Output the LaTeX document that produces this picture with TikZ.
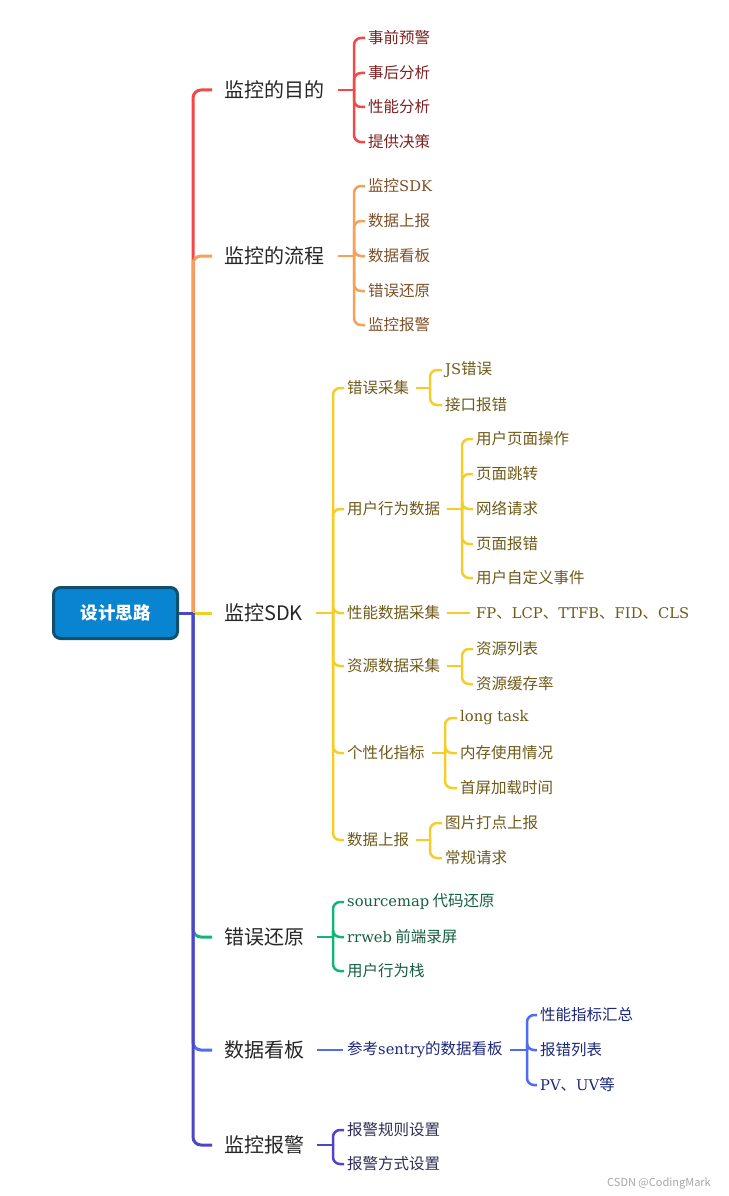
\documentclass[tikz,border=0pt]{standalone}
\usepackage{fontspec}
\setmainfont{Noto Sans CJK SC}
\newfontfamily\latin[Scale=0.95]{DejaVu Serif}
\usetikzlibrary{positioning, calc}
\definecolor{rootblue}{RGB}{8,132,208}
\definecolor{rootedge}{RGB}{14,80,110}
\definecolor{redline}{RGB}{244,72,72}
\definecolor{orangeline}{RGB}{246,160,88}
\definecolor{yellowline}{RGB}{244,206,40}
\definecolor{greenline}{RGB}{18,180,120}
\definecolor{blueline}{RGB}{78,108,244}
\definecolor{purpleline}{RGB}{78,70,200}
\definecolor{redtext}{RGB}{125,32,32}
\definecolor{orangetext}{RGB}{125,80,40}
\definecolor{yellowtext}{RGB}{110,90,25}
\definecolor{greentext}{RGB}{20,95,65}
\definecolor{bluetext}{RGB}{30,40,120}
\definecolor{purpletext}{RGB}{45,45,85}

\begin{document}
\begin{tikzpicture}[x=1pt, y=-1pt,
    mainlabel/.style={anchor=west, inner sep=0pt, text=black!85, font=\fontsize{20}{24}\selectfont},
    leaf/.style={anchor=west, inner sep=0pt, font=\fontsize{15.5}{18}\selectfont},
    trunk/.style={line width=3pt, rounded corners=8pt},
    twig/.style={line width=2.5pt, rounded corners=7pt}]
    \useasboundingbox (0,0) rectangle (728,1196);

    % Root
    \node[draw=rootedge, fill=rootblue, line width=3pt, rounded corners=7pt, minimum width=124pt, minimum height=51pt,
        text=white, font=\fontsize{17.5}{20}\selectfont\bfseries] (root) at (115.5,613) {设计思路};
    \coordinate (tj) at ($(root.east)+(14,0)$);

    % Main branches
    \node[mainlabel] (goal) at (224,90) {监控的目的};
    \node[mainlabel] (flow) at (224,256) {监控的流程};
    \node[mainlabel] (sdk) at (224,613) {监控SDK};
    \node[mainlabel] (restore) at (224,937) {错误还原};
    \node[mainlabel] (board) at (224,1050) {数据看板};
    \node[mainlabel] (alarm) at (224,1145) {监控报警};

    \draw[trunk, redline] (tj) |- ([xshift=-12pt]goal.west);
    \draw[trunk, orangeline] (tj) |- ([xshift=-12pt]flow.west);
    \draw[trunk, yellowline] (tj) -- ([xshift=-12pt]sdk.west);
    \draw[trunk, greenline] (tj) |- ([xshift=-12pt]restore.west);
    \draw[trunk, blueline] (tj) |- ([xshift=-12pt]board.west);
    \draw[trunk, purpleline] (tj) |- ([xshift=-12pt]alarm.west);
    \draw[trunk, purpleline] (root.east) -- (tj);

    % Goal
    \node[leaf, text=redtext] (g1) at (368,38) {事前预警};
    \node[leaf, text=redtext] (g2) at (368,73) {事后分析};
    \node[leaf, text=redtext] (g3) at (368,107) {性能分析};
    \node[leaf, text=redtext] (g4) at (368,142) {提供决策};
    \coordinate (gj) at (354,90);
    \draw[twig, redline] ([xshift=14pt]goal.east) -- (gj);
    \foreach \n in {g1,g2,g3,g4}
        \draw[twig, redline] (gj) |- ([xshift=-3pt]\n.west);

    % Flow
    \node[leaf, text=orangetext] (f1) at (368,186) {监控{\latin SDK}};
    \node[leaf, text=orangetext] (f2) at (368,221) {数据上报};
    \node[leaf, text=orangetext] (f3) at (368,256) {数据看板};
    \node[leaf, text=orangetext] (f4) at (368,291) {错误还原};
    \node[leaf, text=orangetext] (f5) at (368,325) {监控报警};
    \coordinate (fj) at (354,256);
    \draw[twig, orangeline] ([xshift=14pt]flow.east) -- (fj);
    \foreach \n in {f1,f2,f3,f4,f5}
        \draw[twig, orangeline] (fj) |- ([xshift=-3pt]\n.west);

    % SDK
    \node[leaf, text=yellowtext] (s1) at (347,388) {错误采集};
    \node[leaf, text=yellowtext] (s2) at (347,509) {用户行为数据};
    \node[leaf, text=yellowtext] (s3) at (347,613) {性能数据采集};
    \node[leaf, text=yellowtext] (s4) at (347,666) {资源数据采集};
    \node[leaf, text=yellowtext] (s5) at (347,753) {个性化指标};
    \node[leaf, text=yellowtext] (s6) at (347,840) {数据上报};
    \coordinate (sj) at (333,613);
    \draw[twig, yellowline] ([xshift=13pt]sdk.east) -- (sj);
    \foreach \n in {s1,s2,s3,s4,s5,s6}
        \draw[twig, yellowline] (sj) |- ([xshift=-3pt]\n.west);

    \node[leaf, text=yellowtext] (s1a) at (445,370) {{\latin JS}错误};
    \node[leaf, text=yellowtext] (s1b) at (445,405) {接口报错};
    \coordinate (s1j) at (430,388);
    \draw[twig, yellowline] ([xshift=7pt]s1.east) -- (s1j);
    \foreach \n in {s1a,s1b}
        \draw[twig, yellowline] (s1j) |- ([xshift=-3pt]\n.west);

    \node[leaf, text=yellowtext] (s2a) at (476,439) {用户页面操作};
    \node[leaf, text=yellowtext] (s2b) at (476,474) {页面跳转};
    \node[leaf, text=yellowtext] (s2c) at (476,509) {网络请求};
    \node[leaf, text=yellowtext] (s2d) at (476,544) {页面报错};
    \node[leaf, text=yellowtext] (s2e) at (476,578) {用户自定义事件};
    \coordinate (s2j) at (462,509);
    \draw[twig, yellowline] ([xshift=7pt]s2.east) -- (s2j);
    \foreach \n in {s2a,s2b,s2c,s2d,s2e}
        \draw[twig, yellowline] (s2j) |- ([xshift=-3pt]\n.west);

    \node[leaf, text=yellowtext] (s3a) at (476,613) {{\latin FP}、{\latin LCP}、{\latin TTFB}、{\latin FID}、{\latin CLS}};
    \draw[twig, yellowline] ([xshift=7pt]s3.east) -- ([xshift=-6pt]s3a.west);

    \node[leaf, text=yellowtext] (s4a) at (476,649) {资源列表};
    \node[leaf, text=yellowtext] (s4b) at (476,684) {资源缓存率};
    \coordinate (s4j) at (462,666);
    \draw[twig, yellowline] ([xshift=7pt]s4.east) -- (s4j);
    \foreach \n in {s4a,s4b}
        \draw[twig, yellowline] (s4j) |- ([xshift=-3pt]\n.west);

    \node[leaf, text=yellowtext] (s5a) at (460,718) {\latin long task};
    \node[leaf, text=yellowtext] (s5b) at (460,753) {内存使用情况};
    \node[leaf, text=yellowtext] (s5c) at (460,788) {首屏加载时间};
    \coordinate (s5j) at (445,753);
    \draw[twig, yellowline] ([xshift=7pt]s5.east) -- (s5j);
    \foreach \n in {s5a,s5b,s5c}
        \draw[twig, yellowline] (s5j) |- ([xshift=-3pt]\n.west);

    \node[leaf, text=yellowtext] (s6a) at (445,823) {图片打点上报};
    \node[leaf, text=yellowtext] (s6b) at (445,858) {常规请求};
    \coordinate (s6j) at (430,840);
    \draw[twig, yellowline] ([xshift=7pt]s6.east) -- (s6j);
    \foreach \n in {s6a,s6b}
        \draw[twig, yellowline] (s6j) |- ([xshift=-3pt]\n.west);

    % Restore
    \node[leaf, text=greentext] (r1) at (347,902) {{\latin sourcemap} 代码还原};
    \node[leaf, text=greentext] (r2) at (347,937) {{\latin rrweb} 前端录屏};
    \node[leaf, text=greentext] (r3) at (347,971) {用户行为栈};
    \coordinate (rj) at (333,937);
    \draw[twig, greenline] ([xshift=13pt]restore.east) -- (rj);
    \foreach \n in {r1,r2,r3}
        \draw[twig, greenline] (rj) |- ([xshift=-3pt]\n.west);

    % Board
    \node[leaf, text=bluetext] (b1) at (347,1050) {参考{\latin sentry}的数据看板};
    \draw[twig, blueline] ([xshift=13pt]board.east) -- ([xshift=-4pt]b1.west);
    \node[leaf, text=bluetext] (b1a) at (540,1015) {性能指标汇总};
    \node[leaf, text=bluetext] (b1b) at (540,1050) {报错列表};
    \node[leaf, text=bluetext] (b1c) at (540,1085) {{\latin PV}、{\latin UV}等};
    \coordinate (b1j) at (527,1050);
    \draw[twig, blueline] ([xshift=7pt]b1.east) -- (b1j);
    \foreach \n in {b1a,b1b,b1c}
        \draw[twig, blueline] (b1j) |- ([xshift=-3pt]\n.west);

    % Alarm
    \node[leaf, text=purpletext] (a1) at (347,1130) {报警规则设置};
    \node[leaf, text=purpletext] (a2) at (347,1164) {报警方式设置};
    \coordinate (aj) at (333,1145);
    \draw[twig, purpleline] ([xshift=13pt]alarm.east) -- (aj);
    \foreach \n in {a1,a2}
        \draw[twig, purpleline] (aj) |- ([xshift=-3pt]\n.west);

    % Watermark
    \node[anchor=east, inner sep=0pt, text=black!35, font=\fontsize{11}{13}\selectfont] (mark) at (711,1183) {CSDN @CodingMark};
\end{tikzpicture}
\end{document}
